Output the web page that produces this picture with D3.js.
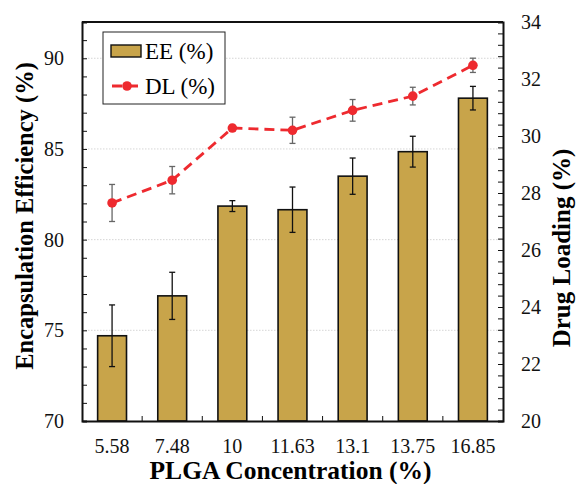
<!DOCTYPE html>
<html>
<head>
<meta charset="utf-8">
<script src="https://cdn.jsdelivr.net/npm/d3@7"></script>
<style>
  body { margin: 0; background: #fff; }
</style>
</head>
<body>
<svg width="576" height="484"></svg>
<script>
var categories = ["5.58", "7.48", "10", "11.63", "13.1", "13.75", "16.85"];
var eeValues = [74.7, 76.9, 81.85, 81.65, 83.5, 84.85, 87.8];
var eeErrors = [1.7, 1.3, 0.3, 1.25, 1.0, 0.85, 0.65];
var dlValues = [27.65, 28.45, 30.28, 30.2, 30.9, 31.4, 32.48];
var dlErrors = [0.65, 0.48, 0.1, 0.46, 0.38, 0.31, 0.25];
var leftTicks = [70, 75, 80, 85, 90];
var rightTicks = [20, 22, 24, 26, 28, 30, 32, 34];

var serif = "'Liberation Serif', 'Times New Roman', serif";

var svg = d3.select("svg"),
    margin = {top: 22, right: 73, bottom: 63, left: 82},
    width = 576 - margin.left - margin.right,
    height = 484 - margin.top - margin.bottom,
    g = svg.append("g").attr("transform", "translate(" + margin.left + "," + margin.top + ")");

var x = d3.scaleBand().domain(categories).range([0, width]).paddingInner(0).paddingOuter(0),
    y = d3.scaleLinear().domain([70, 92]).range([height, 0]),
    y2 = d3.scaleLinear().domain([20, 34]).range([height, 0]);

var barColor = "#c8a44a", lineColor = "#ee2a2f";

// grid
g.selectAll(".grid")
  .data(leftTicks.filter(function(d) { return d > 70; }))
  .enter().append("line")
    .attr("x1", 0).attr("x2", width)
    .attr("y1", function(d) { return y(d); })
    .attr("y2", function(d) { return y(d); })
    .attr("stroke", "#cccccc")
    .attr("stroke-width", 0.8)
    .attr("stroke-dasharray", "1.5,1.5");

// bars
var bw = x.bandwidth() * 0.48;
g.selectAll(".bar")
  .data(categories)
  .enter().append("rect")
    .attr("x", function(d) { return x(d) + (x.bandwidth() - bw) / 2; })
    .attr("y", function(d, i) { return y(eeValues[i]); })
    .attr("width", bw)
    .attr("height", function(d, i) { return height - y(eeValues[i]); })
    .attr("fill", barColor)
    .attr("stroke", "#111")
    .attr("stroke-width", 1.6);

function errBars(vals, errs, scale, color, cls) {
  var eg = g.selectAll("." + cls)
    .data(categories)
    .enter().append("g")
      .attr("class", cls)
      .attr("stroke", color)
      .attr("stroke-width", 1.3);
  eg.append("line")
    .attr("x1", function(d) { return x(d) + x.bandwidth() / 2; })
    .attr("x2", function(d) { return x(d) + x.bandwidth() / 2; })
    .attr("y1", function(d, i) { return scale(vals[i] + errs[i]); })
    .attr("y2", function(d, i) { return scale(vals[i] - errs[i]); });
  [1, -1].forEach(function(s) {
    eg.append("line")
      .attr("x1", function(d) { return x(d) + x.bandwidth() / 2 - 3; })
      .attr("x2", function(d) { return x(d) + x.bandwidth() / 2 + 3; })
      .attr("y1", function(d, i) { return scale(vals[i] + s * errs[i]); })
      .attr("y2", function(d, i) { return scale(vals[i] + s * errs[i]); });
  });
}
errBars(eeValues, eeErrors, y, "#111", "eeErr");
errBars(dlValues, dlErrors, y2, "#666", "dlErr");

// DL line
var line = d3.line()
  .x(function(d) { return x(d) + x.bandwidth() / 2; })
  .y(function(d, i) { return y2(dlValues[i]); });

g.append("path")
  .datum(categories)
  .attr("d", line)
  .attr("fill", "none")
  .attr("stroke", lineColor)
  .attr("stroke-width", 2.8)
  .attr("stroke-dasharray", "10,6");

g.selectAll(".dot")
  .data(categories)
  .enter().append("circle")
    .attr("cx", function(d) { return x(d) + x.bandwidth() / 2; })
    .attr("cy", function(d, i) { return y2(dlValues[i]); })
    .attr("r", 4.8)
    .attr("fill", lineColor);

// axes (inward ticks)
var leftAxis = d3.axisLeft(y).tickValues(d3.range(70, 92.01, 1)).tickSize(-5)
  .tickFormat(function(d) { return leftTicks.indexOf(d) >= 0 ? d : ""; });
var la = g.append("g").call(leftAxis);
la.selectAll("text").attr("x", -18);

var rightAxis = d3.axisRight(y2).tickValues(d3.range(0, 36).map(function(i) { return +(20 + i * 0.4).toFixed(1); })).tickSize(-5)
  .tickFormat(function(d) { return rightTicks.indexOf(d) >= 0 ? d : ""; });
var ra = g.append("g").attr("transform", "translate(" + width + ",0)").call(rightAxis);
ra.selectAll("text").attr("x", 18);

var xa = g.append("g").attr("transform", "translate(0," + height + ")")
  .call(d3.axisBottom(x).tickSize(0).tickPadding(18));
xa.selectAll(".bnd")
  .data(categories.slice(1))
  .enter().append("line")
    .attr("x1", function(d) { return x(d); })
    .attr("x2", function(d) { return x(d); })
    .attr("y1", 0).attr("y2", -5)
    .attr("stroke", "#111");

[la, ra, xa].forEach(function(a) {
  a.selectAll("text").style("font-family", serif).style("font-size", "20px").attr("fill", "#111");
  a.select(".domain").attr("stroke", "#111").attr("stroke-width", 2);
  a.selectAll(".tick line").attr("stroke", "#111").attr("stroke-width", 1);
});

// frame top
g.append("line").attr("x1", 0).attr("x2", width).attr("y1", 0).attr("y2", 0)
  .attr("stroke", "#111").attr("stroke-width", 2);

// axis titles
svg.append("text")
  .attr("transform", "translate(33,216) rotate(-90)")
  .attr("text-anchor", "middle")
  .style("font-family", serif).style("font-size", "24.5px").style("font-weight", "bold")
  .text("Encapsulation Efficiency (%)");
svg.append("text")
  .attr("transform", "translate(570,248) rotate(-90)")
  .attr("text-anchor", "middle")
  .style("font-family", serif).style("font-size", "25px").style("font-weight", "bold")
  .text("Drug Loading (%)");
svg.append("text")
  .attr("x", 290.5).attr("y", 479)
  .attr("text-anchor", "middle")
  .style("font-family", serif).style("font-size", "25.5px").style("font-weight", "bold")
  .text("PLGA Concentration (%)");

// legend
var lg = svg.append("g");
lg.append("rect").attr("x", 103).attr("y", 32).attr("width", 122).attr("height", 72)
  .attr("fill", "#fff").attr("stroke", "#222").attr("stroke-width", 1);
lg.append("rect").attr("x", 111).attr("y", 45).attr("width", 30).attr("height", 12)
  .attr("fill", barColor).attr("stroke", "#111").attr("stroke-width", 1.4);
lg.append("text").attr("x", 145).attr("y", 58.5).style("font-family", serif).style("font-size", "23px").text("EE (%)");
lg.append("line").attr("x1", 110).attr("x2", 141).attr("y1", 86).attr("y2", 86)
  .attr("stroke", lineColor).attr("stroke-width", 2.8).attr("stroke-dasharray", "10,6")
  .attr("stroke-dashoffset", -2);
lg.append("circle").attr("cx", 127).attr("cy", 86).attr("r", 4.8).attr("fill", lineColor);
lg.append("text").attr("x", 145).attr("y", 94).style("font-family", serif).style("font-size", "23px").text("DL (%)");
</script>
</body>
</html>
